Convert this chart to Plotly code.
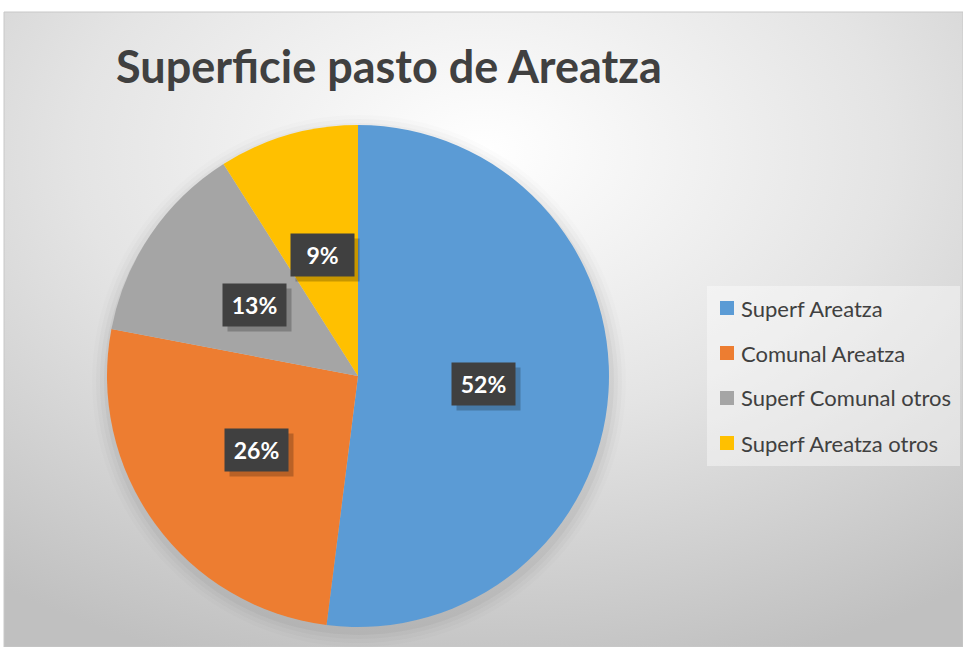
import base64, math
import plotly.graph_objects as go

labels = ["Superf Areatza", "Comunal Areatza", "Superf Comunal otros", "Superf Areatza otros"]
values = [52, 26, 13, 9]
title_text = "Superficie pasto de Areatza"

colors = ["#5B9BD5", "#ED7D31", "#A5A5A5", "#FFC000"]

W, H = 963, 647
# pie geometry in pixels
cx, cy, R = 358, 376, 251

def px(x):
    return x / W

def py(y):
    return 1 - y / H

svg = (
    '<svg xmlns="http://www.w3.org/2000/svg" width="959" height="635" preserveAspectRatio="none">'
    '<defs><radialGradient id="g" cx="50%" cy="22%" r="85%">'
    '<stop offset="0" stop-color="#ffffff"/><stop offset="0.5" stop-color="#e4e4e4"/>'
    '<stop offset="1" stop-color="#c0c0c0"/></radialGradient></defs>'
    '<rect width="100%" height="100%" fill="url(#g)"/></svg>'
)
src = "data:image/svg+xml;base64," + base64.b64encode(svg.encode()).decode()

fig = go.Figure()
fig.add_trace(go.Pie(
    labels=labels, values=values, sort=False, direction="clockwise", rotation=0,
    marker=dict(colors=colors, line=dict(width=0)),
    textinfo="none", hoverinfo="label+percent", showlegend=False,
    domain=dict(x=[px(cx - R), px(cx + R)], y=[py(cy + R), py(cy - R)]),
))

shapes = []
# chart area border
shapes.append(dict(type="rect", xref="paper", yref="paper", x0=px(4), x1=1.0, y0=0, y1=py(12),
                   line=dict(color="#c8c8c8", width=1), fillcolor="rgba(0,0,0,0)", layer="below"))
# soft pie shadow
for k, a in [(16, 0.012), (12, 0.018), (8, 0.025), (4, 0.035)]:
    shapes.append(dict(type="circle", xref="paper", yref="paper",
                       x0=px(cx - R - k + 1), x1=px(cx + R + k + 1),
                       y0=py(cy + R + k + 4), y1=py(cy - R - k + 6),
                       line=dict(width=0), fillcolor=f"rgba(0,0,0,{a})", layer="below"))

annotations = []
annotations.append(dict(text="<b>" + title_text + "</b>", x=px(389), y=py(66), xref="paper", yref="paper",
                        showarrow=False, xanchor="center", yanchor="middle",
                        font=dict(family="Lato", size=45, color="#404040")))

# data labels computed from slice mid-angles
total = sum(values)
cum = 0
for v in values:
    mid = (cum + v / 2) / total * 2 * math.pi
    cum += v
    lx = cx + 0.5 * R * math.sin(mid)
    ly = cy - 0.5 * R * math.cos(mid)
    pct = f"{round(v / total * 100)}%"
    annotations.append(dict(text="", x=px(lx), y=py(ly), xref="paper", yref="paper", showarrow=False,
                            xanchor="center", yanchor="middle",
                            xshift=5, yshift=-5, width=57, height=36, borderpad=3,
                            bgcolor="rgba(0,0,0,0.22)"))
    annotations.append(dict(text="<b>" + pct + "</b>", x=px(lx), y=py(ly), xref="paper", yref="paper",
                            showarrow=False, xanchor="center", yanchor="middle",
                            width=57, height=36, borderpad=3, bgcolor="#404040",
                            font=dict(family="Lato", size=23, color="white")))

# manual legend
shapes.append(dict(type="rect", xref="paper", yref="paper", x0=px(707), x1=px(960), y0=py(466), y1=py(286),
                   line=dict(width=0), fillcolor="rgba(255,255,255,0.4)", layer="below"))
for i, (lab, col) in enumerate(zip(labels, colors)):
    yc = 308 + 45 * i
    shapes.append(dict(type="rect", xref="paper", yref="paper", x0=px(720), x1=px(734),
                       y0=py(yc + 7), y1=py(yc - 7), line=dict(width=0), fillcolor=col))
    annotations.append(dict(text=lab, x=px(739), y=py(yc), xref="paper", yref="paper", showarrow=False,
                            xanchor="left", yanchor="middle",
                            font=dict(family="Lato", size=22, color="#404040")))

fig.update_layout(
    width=W, height=H, margin=dict(l=0, r=0, t=0, b=0),
    paper_bgcolor="white", plot_bgcolor="white",
    images=[dict(source=src, xref="paper", yref="paper", x=px(4), y=py(12), sizex=1 - px(4), sizey=py(12),
                 xanchor="left", yanchor="top", sizing="stretch", layer="below")],
    shapes=shapes, annotations=annotations, showlegend=False,
)
fig.write_html("out.html", config={"displayModeBar": False},
               post_script="document.body.style.margin='0';document.body.style.padding='0';")
